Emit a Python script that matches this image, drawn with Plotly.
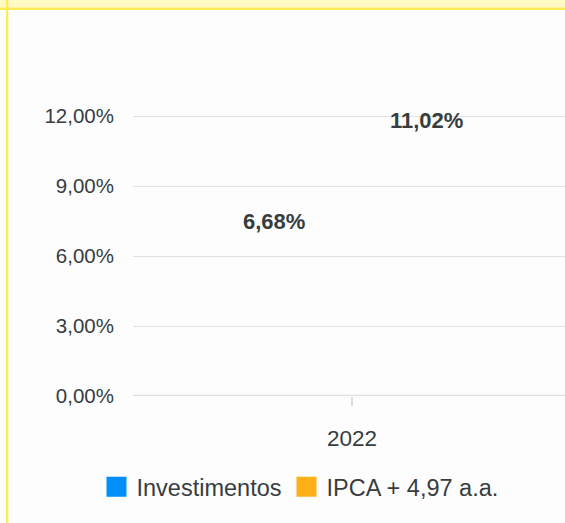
import plotly.graph_objects as go

categories = ["2022"]
series_names = ["Investimentos", "IPCA + 4,97 a.a."]
series_values = [[6.68], [11.02]]
series_labels = [["6,68%"], ["11,02%"]]
series_colors = ["#008FFB", "#FEB019"]
y_tickvals = [0, 3, 6, 9, 12]
y_ticktext = ["0,00%", "3,00%", "6,00%", "9,00%", "12,00%"]

W, H = 565, 523
L, R, T, B = 133, 565, 114, 396
YMAX = 12 + 2 * 12 / 280.0  # small headroom so the 12% gridline is drawn

def px(x):
    return (x - L) / (R - L)

def py(y):
    return (B - y) / (B - T)

label_xshift = [-78, 74]
FONT = "Liberation Sans, Arial"
TXT = "#373d3f"

fig = go.Figure()
annotations = []
for i, (name, vals, labels, col) in enumerate(zip(series_names, series_values, series_labels, series_colors)):
    fig.add_trace(go.Bar(
        x=categories, y=vals, name=name,
        marker=dict(color="rgba(0,0,0,0)", line=dict(width=0)),
        showlegend=False, hoverinfo="skip",
    ))
    fig.add_trace(go.Scatter(
        x=[None], y=[None], mode="markers", name=name,
        marker=dict(symbol="square", size=16, color=col, line=dict(color=col, width=4)),
        showlegend=True,
    ))
    for ci, (v, lab) in enumerate(zip(vals, labels)):
        annotations.append(dict(
            x=ci, y=v, xref="x", yref="y", text=lab, showarrow=False,
            xanchor="center", yanchor="middle", xshift=label_xshift[i], yshift=18.5,
            font=dict(size=22, color=TXT, family=FONT, weight="bold"),
        ))

shapes = [
    dict(type="rect", xref="paper", yref="paper", x0=px(0), x1=px(W), y0=py(0), y1=py(7.5),
         fillcolor="#FFF9C4", line=dict(width=0), layer="below"),
    dict(type="rect", xref="paper", yref="paper", x0=px(0), x1=px(W), y0=py(7.5), y1=py(10),
         fillcolor="#FFEB55", line=dict(width=0), layer="below"),
    dict(type="rect", xref="paper", yref="paper", x0=px(6), x1=px(8.3), y0=py(0), y1=py(H),
         fillcolor="#FFEB55", line=dict(width=0), layer="below"),
    dict(type="line", xref="paper", yref="y", x0=0, x1=1, y0=0, y1=0,
         line=dict(color="#e0e0e0", width=2.5)),
]

fig.update_layout(
    width=W, height=H,
    margin=dict(l=L, r=W - R, t=T, b=H - B, pad=0),
    paper_bgcolor="#fdfdfd", plot_bgcolor="#fdfdfd",
    barmode="group", bargap=0.31, bargroupgap=0,
    font=dict(family=FONT, color=TXT, size=20),
    shapes=shapes,
    annotations=annotations,
    showlegend=True,
    legend=dict(orientation="h", x=px(300), xanchor="center", y=py(487), yanchor="middle",
                font=dict(size=23.5, color=TXT, family=FONT), itemwidth=30,
                bgcolor="rgba(0,0,0,0)", traceorder="normal"),
    xaxis=dict(type="category", range=[-0.5, 0.4863], showgrid=False, zeroline=False,
               showline=False, ticks="outside", ticklen=9, tickcolor="#dcdcdc", tickwidth=1.5,
               ticklabelstandoff=13,
               tickfont=dict(size=22.5, color=TXT), fixedrange=True),
    yaxis=dict(range=[0, YMAX], tickvals=y_tickvals, ticktext=y_ticktext, showgrid=True,
               gridcolor="#e2e2e2", gridwidth=1.3, zeroline=False, showline=False,
               ticks="", ticklabelstandoff=18,
               tickfont=dict(size=20.5, color=TXT), fixedrange=True),
)

fig.write_html("out.html")
